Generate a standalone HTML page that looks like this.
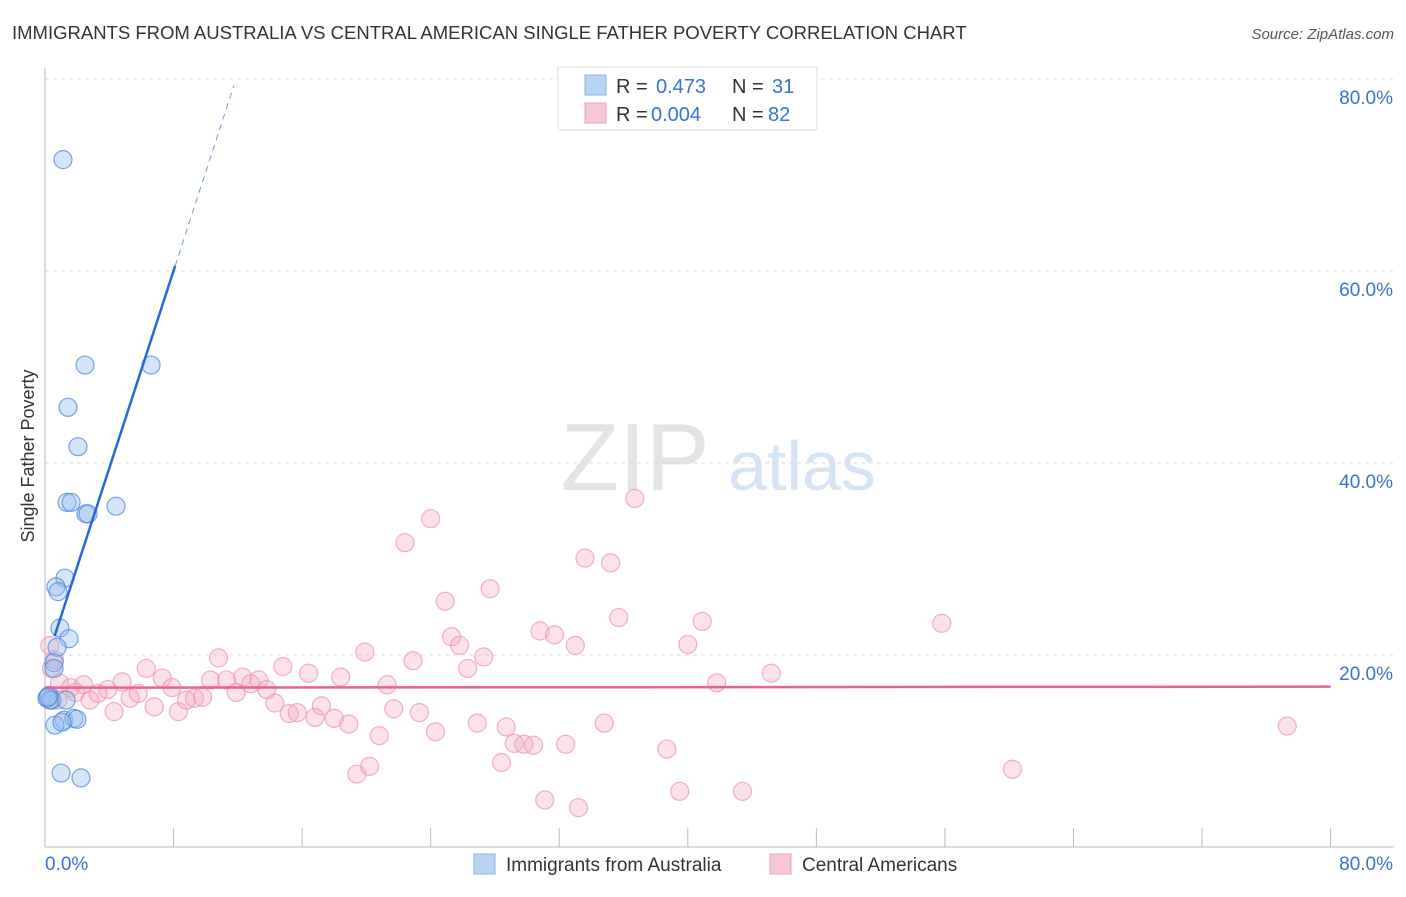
<!DOCTYPE html>
<html><head><meta charset="utf-8"><style>
body{margin:0;background:#fff;font-family:"Liberation Sans",sans-serif;}
svg text{font-family:"Liberation Sans",sans-serif;}
</style></head><body>
<svg id="chart" width="1406" height="892" xmlns="http://www.w3.org/2000/svg">
<text x="12" y="39" font-size="18.5" fill="#333">IMMIGRANTS FROM AUSTRALIA VS CENTRAL AMERICAN SINGLE FATHER POVERTY CORRELATION CHART</text>
<text x="1394" y="39" font-size="15" fill="#555" font-style="italic" text-anchor="end">Source: ZipAtlas.com</text>
<text x="34" y="456" font-size="18" fill="#333" transform="rotate(-90 34 456)" text-anchor="middle">Single Father Poverty</text>
<g>
<text x="635" y="490" font-size="96" fill="#e4e4e4" font-family="Liberation Serif,serif" text-anchor="middle">ZIP</text>
<text x="802" y="490" font-size="70" fill="#d6e4f5" text-anchor="middle">atlas</text>
</g>
<g id="grid"></g>
<g id="axes"></g>
<g id="pink"></g>
<g id="blue"></g>
<g id="lines"></g>
<g>
<rect x="558" y="67" width="259" height="63" fill="#fff" stroke="#ddd"/>
<rect x="585" y="75" width="21" height="20" fill="#b8d3f4" stroke="#8ab0e0"/>
<rect x="585" y="103" width="21" height="20" fill="#f9c6d4" stroke="#f0a3ba"/>
<text x="616" y="93" font-size="20" fill="#333">R = </text><text x="656" y="93" font-size="20" fill="#3a72d0">0.473</text>
<text x="732" y="93" font-size="20" fill="#333">N = </text><text x="772" y="93" font-size="20" fill="#3a72d0">31</text>
<text x="616" y="121" font-size="20" fill="#333">R = </text><text x="651" y="121" font-size="20" fill="#3a72d0">0.004</text>
<text x="732" y="121" font-size="20" fill="#333">N = </text><text x="768" y="121" font-size="20" fill="#3a72d0">82</text>
</g>
<g>
<rect x="474" y="854" width="21" height="20" fill="#b8d3f4" stroke="#8ab0e0"/>
<text x="506" y="871" font-size="19" fill="#333">Immigrants from Australia</text>
<rect x="770" y="854" width="21" height="20" fill="#f9c6d4" stroke="#f0a3ba"/>
<text x="802" y="871" font-size="19" fill="#333">Central Americans</text>
</g>
</svg>
<script>
const yTicks=[20,40,60,80];
const yTickLabels=["20.0%","40.0%","60.0%","80.0%"];
const xTickLabels=["0.0%","80.0%"];
const blueX=[1.12,2.49,6.6,1.43,2.05,1.37,1.62,2.55,2.68,4.42,1.24,0.68,0.81,0.93,1.49,0.75,0.56,0.56,0.25,0.44,0.12,1.31,1.18,1.8,1.99,0.62,1.06,1.0,2.24,0.31,0.19];
const blueY=[71.6,50.2,50.2,45.8,41.7,35.9,35.9,34.7,34.7,35.5,28.0,27.1,26.6,22.8,21.7,20.8,19.2,18.6,15.8,15.3,15.5,15.3,13.2,13.4,13.3,12.7,13.0,7.7,7.2,15.3,15.6];
const pinkX=[0.3,0.6,0.4,0.9,1.6,2.4,0.8,1.9,2.8,3.3,3.9,4.3,4.8,5.3,5.8,6.3,6.8,7.3,7.9,8.3,8.8,9.3,9.8,10.3,10.8,11.3,11.9,12.3,12.8,13.3,13.8,14.3,14.8,15.2,15.7,16.4,16.8,17.2,18.0,18.4,18.9,19.4,19.9,20.2,20.8,21.3,21.7,22.4,22.9,23.3,24.0,24.3,24.9,25.3,25.8,26.3,26.9,27.3,27.7,28.4,28.7,29.2,29.8,30.4,30.8,31.1,31.7,32.4,33.0,33.2,33.6,34.8,35.2,35.7,36.7,38.7,39.5,40.0,40.9,41.8,43.4,45.2,55.8,60.2,77.3];
const pinkY=[21.0,19.5,18.6,17.1,16.6,16.9,15.3,16.1,15.3,16.0,16.4,14.1,17.2,15.5,16.0,18.6,14.6,17.6,16.6,14.1,15.3,15.5,15.6,17.4,19.7,17.4,16.1,17.7,17.0,17.4,16.4,15.0,18.8,13.9,14.0,18.1,13.5,14.7,13.4,17.7,12.8,7.6,20.3,8.4,11.6,16.9,14.4,31.7,19.4,14.0,34.2,12.0,25.6,21.9,21.0,18.6,12.9,19.8,26.9,8.8,12.5,10.8,10.7,10.6,22.5,4.9,22.1,10.7,21.0,4.1,30.1,12.9,29.6,23.9,36.3,10.2,5.8,21.1,23.5,17.1,5.8,18.1,23.3,8.1,12.6];
const blueTrend=[[0.6,18.9+5.14*0.6],[8.1,18.9+5.14*8.1]];
const blueDash=[[8.1,18.9+5.14*8.1],[11.75,18.9+5.14*11.75]];
const pinkTrend=[[0,16.6],[80,16.7]];
const NS="http://www.w3.org/2000/svg";
const X=v=>45+v*16.07, Y=v=>847-v*9.6;
function mk(t,a,p){const e=document.createElementNS(NS,t);for(const k in a)e.setAttribute(k,a[k]);p.appendChild(e);return e;}
const grid=document.getElementById('grid'),axes=document.getElementById('axes');
yTicks.forEach((t,i)=>{
 const l=mk('line',{x1:45,x2:1394,y1:Y(t),y2:Y(t),stroke:'#ddd','stroke-dasharray':'4,4'},grid);
 
 
 const tx=mk('text',{x:1393,y:Y(t)+25,'font-size':19,fill:'#3a72d0','text-anchor':'end'},axes);
 tx.textContent=yTickLabels[i];
 
 
});
mk('line',{x1:45,x2:45,y1:68,y2:847,stroke:'#bbb'},axes);
mk('line',{x1:45,x2:1394,y1:847,y2:847,stroke:'#bbb'},axes);
for(let i=1;i<=10;i++){mk('line',{x1:X(i*8),x2:X(i*8),y1:828,y2:847,stroke:'#bbb'},axes);}
const x0=mk('text',{x:45,y:870,'font-size':19,fill:'#3a72d0'},axes);x0.textContent=xTickLabels[0];


const x1=mk('text',{x:1393,y:870,'font-size':19,fill:'#3a72d0','text-anchor':'end'},axes);x1.textContent=xTickLabels[1];


const pg=document.getElementById('pink'),bg=document.getElementById('blue'),lg=document.getElementById('lines');
pinkX.forEach((v,i)=>{const c=mk('circle',{cx:X(v),cy:Y(pinkY[i]),r:9,fill:'rgba(246,170,194,0.35)',stroke:'rgba(236,150,178,0.75)','stroke-width':1.2},pg);
 
 });
blueX.forEach((v,i)=>{const c=mk('circle',{cx:X(v),cy:Y(blueY[i]),r:9,fill:'rgba(150,190,240,0.4)',stroke:'rgba(80,135,215,0.75)','stroke-width':1.2},bg);
 
 });
const pl=mk('line',{x1:X(pinkTrend[0][0]),y1:Y(pinkTrend[0][1]),x2:X(pinkTrend[1][0]),y2:Y(pinkTrend[1][1]),stroke:'#e8628e','stroke-width':2.5},lg);


const bl=mk('line',{x1:X(blueTrend[0][0]),y1:Y(blueTrend[0][1]),x2:X(blueTrend[1][0]),y2:Y(blueTrend[1][1]),stroke:'#2469d6','stroke-width':2.5},lg);


const bd=mk('line',{x1:X(blueDash[0][0]),y1:Y(blueDash[0][1]),x2:X(blueDash[1][0]),y2:Y(blueDash[1][1]),stroke:'#6a9be0','stroke-width':1,'stroke-dasharray':'6,5'},lg);


</script>
</body></html>
